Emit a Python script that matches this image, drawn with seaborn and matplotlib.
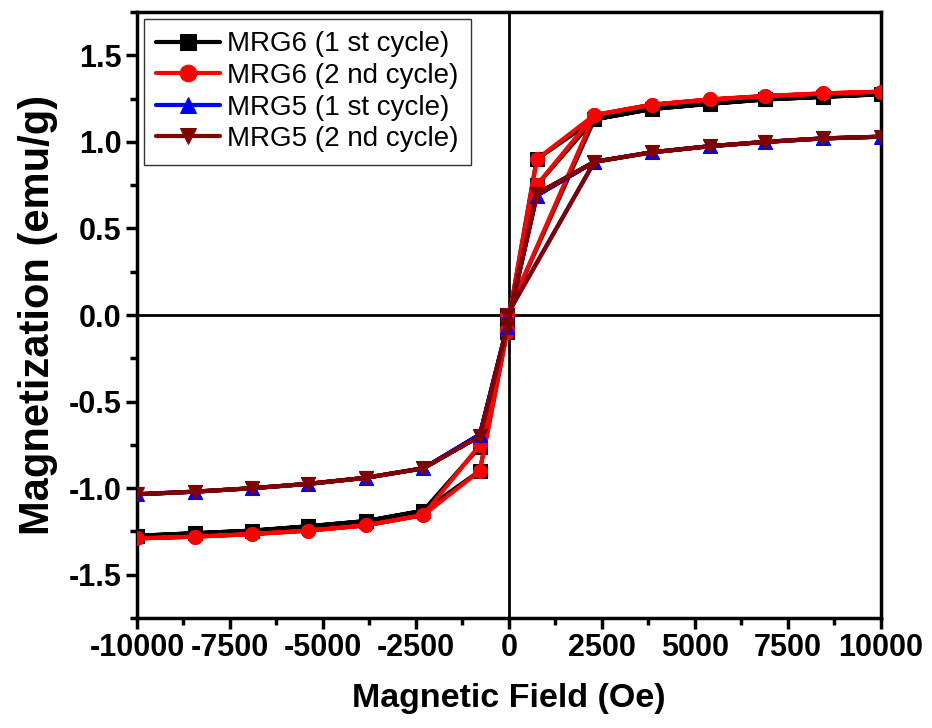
import matplotlib
matplotlib.use("Agg")
import matplotlib.pyplot as plt
import seaborn as sns
import pandas as pd
from matplotlib.ticker import MultipleLocator

sns.set_style("white")
plt.rcParams['font.family'] = ['Liberation Sans', 'DejaVu Sans']
plt.rcParams['axes.unicode_minus'] = False
plt.rcParams['text.color'] = 'black'
plt.rcParams['axes.labelcolor'] = 'black'
plt.rcParams['xtick.color'] = 'black'
plt.rcParams['ytick.color'] = 'black'

# Field values (Oe) along each measured path
field_mrg6 = [-50, 2300, 3850, 5400, 6900, 8450, 10000, 8450, 6900, 5400, 3850, 2300, 750, -50, -780,
              -2300, -3850, -5400, -6900, -8450, -10000, -8450, -6900, -5400, -3850, -2300, -780, -50, 750, 2300]
field_mrg5 = [-50, 2300, 3850, 5400, 6900, 8450, 10000, 8450, 6900, 5400, 3850, 2300, 750, -50, -780,
              -2300, -3850, -5400, -6900, -8450, -10000, -8450, -6900, -5400, -3850, -2300, -780, -50, 750, 2300]

mrg6_c1 = [0.0, 1.13, 1.19, 1.22, 1.245, 1.26, 1.275, 1.26, 1.245, 1.22, 1.19, 1.13, 0.90, -0.08, -0.76,
           -1.13, -1.19, -1.22, -1.245, -1.26, -1.275, -1.26, -1.245, -1.22, -1.19, -1.13, -0.90, -0.10, 0.75, 1.13]
mrg6_c2 = [0.0, 1.155, 1.215, 1.245, 1.265, 1.28, 1.29, 1.28, 1.265, 1.245, 1.215, 1.155, 0.90, -0.08, -0.75,
           -1.155, -1.215, -1.245, -1.265, -1.28, -1.29, -1.28, -1.265, -1.245, -1.215, -1.155, -0.90, -0.10, 0.75, 1.155]
mrg5_c1 = [0.0, 0.885, 0.94, 0.975, 1.0, 1.02, 1.03, 1.02, 1.0, 0.975, 0.94, 0.885, 0.69, -0.07, -0.69,
           -0.885, -0.94, -0.975, -1.0, -1.02, -1.035, -1.02, -1.0, -0.975, -0.94, -0.885, -0.69, -0.07, 0.69, 0.885]
mrg5_c2 = [0.0, 0.885, 0.94, 0.975, 1.0, 1.02, 1.03, 1.02, 1.0, 0.975, 0.94, 0.885, 0.70, -0.07, -0.70,
           -0.885, -0.94, -0.975, -1.0, -1.02, -1.035, -1.02, -1.0, -0.975, -0.94, -0.885, -0.70, -0.07, 0.70, 0.885]

labels = ["MRG6 (1 st cycle)", "MRG6 (2 nd cycle)", "MRG5 (1 st cycle)", "MRG5 (2 nd cycle)"]
colors = ["black", "#ff0000", "#0000ff", "#800000"]
markers = ["s", "o", "^", "v"]

fig = plt.figure(figsize=(9.32, 7.28), dpi=100)
ax = fig.add_axes([0.147, 0.151, 0.798, 0.8325])

ax.axhline(0, color="black", lw=2, zorder=1)
ax.axvline(0, color="black", lw=2, zorder=1)

series = [(field_mrg6, mrg6_c1), (field_mrg6, mrg6_c2), (field_mrg5, mrg5_c1), (field_mrg5, mrg5_c2)]
for (xs, ys), lab, c, m in zip(series, labels, colors, markers):
    df = pd.DataFrame({"H": xs, "M": ys})
    sns.lineplot(data=df, x="H", y="M", sort=False, estimator=None, ax=ax, color=c,
                 marker=m, markersize=10, markeredgecolor=c, lw=3, label=lab, zorder=3)

ax.set_xlim(-10000, 10000)
ax.set_ylim(-1.75, 1.75)
ax.xaxis.set_major_locator(MultipleLocator(2500))
ax.xaxis.set_minor_locator(MultipleLocator(1250))
ax.yaxis.set_major_locator(MultipleLocator(0.5))
ax.yaxis.set_minor_locator(MultipleLocator(0.25))
ax.tick_params(axis="both", which="major", direction="out", length=8, width=2.5,
               labelsize=22, bottom=True, left=True, top=False, right=False, pad=3)
ax.tick_params(axis="both", which="minor", direction="out", length=5, width=2.5,
               bottom=True, left=True, top=False, right=False)
for lbl in ax.get_xticklabels() + ax.get_yticklabels():
    lbl.set_fontweight("bold")
for sp in ax.spines.values():
    sp.set_linewidth(2.5)
    sp.set_color("black")

ax.set_xlabel("Magnetic Field (Oe)", fontsize=24.5, fontweight="bold", labelpad=14)
ax.set_ylabel("Magnetization (emu/g)", fontsize=30, fontweight="bold", labelpad=8)

leg = ax.legend(loc="upper left", fontsize=20, frameon=True, fancybox=False,
                borderpad=0.45, handlelength=2.3, handletextpad=0.25, labelspacing=0.2,
                borderaxespad=0.25, markerscale=1.2)
leg.get_frame().set_edgecolor("black")
leg.get_frame().set_linewidth(1.0)

fig.savefig("out.png", dpi=100)
